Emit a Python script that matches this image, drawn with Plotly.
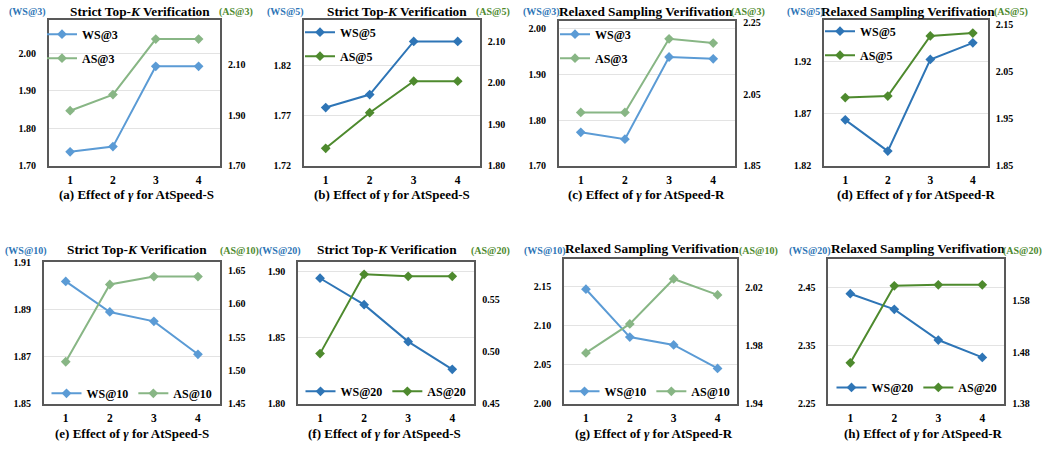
import plotly.graph_objects as go

W, H = 1044, 450
categories = [1, 2, 3, 4]

# --- data ---
ws3_s = [1.737, 1.751, 1.966, 1.966]
as3_s = [1.918, 1.982, 2.202, 2.202]
ws5_s = [1.778, 1.791, 1.844, 1.844]
as5_s = [1.842, 1.928, 2.004, 2.004]
ws3_r = [1.773, 1.758, 1.938, 1.934]
as3_r = [1.999, 1.999, 2.205, 2.193]
ws5_r = [1.864, 1.834, 1.922, 1.938]
as5_r = [1.995, 1.998, 2.126, 2.132]
ws10_s = [1.902, 1.889, 1.885, 1.871]
as10_s = [1.513, 1.629, 1.641, 1.641]
ws20_s = [1.895, 1.875, 1.847, 1.826]
as20_s = [0.498, 0.574, 0.572, 0.572]
ws10_r = [2.146, 2.085, 2.075, 2.045]
as10_r = [1.975, 1.995, 2.026, 2.015]
ws20_r = [2.440, 2.413, 2.360, 2.330]
as20_r = [1.459, 1.608, 1.610, 1.610]

ws_names = ["WS@3", "WS@5", "WS@3", "WS@5", "WS@10", "WS@20", "WS@10", "WS@20"]
as_names = ["AS@3", "AS@5", "AS@3", "AS@5", "AS@10", "AS@20", "AS@10", "AS@20"]
ws_data = [ws3_s, ws5_s, ws3_r, ws5_r, ws10_s, ws20_s, ws10_r, ws20_r]
as_data = [as3_s, as5_s, as3_r, as5_r, as10_s, as20_s, as10_r, as20_r]

left_ticks = [
    [1.70, 1.80, 1.90, 2.00], [1.72, 1.77, 1.82], [1.70, 1.80, 1.90, 2.00], [1.82, 1.87, 1.92],
    [1.85, 1.87, 1.89, 1.91], [1.80, 1.85, 1.90], [2.00, 2.05, 2.10, 2.15], [2.25, 2.35, 2.45],
]
right_ticks = [
    [1.70, 1.90, 2.10], [1.80, 1.90, 2.00, 2.10], [1.85, 2.05, 2.25], [1.85, 1.95, 2.05, 2.15],
    [1.45, 1.50, 1.55, 1.60, 1.65], [0.45, 0.50, 0.55], [1.94, 1.98, 2.02], [1.38, 1.48, 1.58],
]
left_ranges = [[1.70, 2.09], [1.72, 1.8655], [1.70, 2.0177], [1.82, 1.960],
               [1.85, 1.9103], [1.80, 1.9074], [2.00, 2.185], [2.25, 2.5006]]
right_ranges = [[1.70, 2.278], [1.80, 2.152], [1.85, 2.256], [1.85, 2.160],
                [1.45, 1.663], [0.45, 0.5859], [1.94, 2.040], [1.38, 1.6606]]
x_ranges = [[0.5, 4.5], [0.5, 4.5], [0.5, 4.5], [0.5, 4.35],
            [0.5, 4.5], [0.5, 4.5], [0.5, 4.45], [0.5, 4.5]]

titles = ["Strict Top-<i>K</i> Verification", "Strict Top-<i>K</i> Verification",
          "Relaxed Sampling Verifivation", "Relaxed Sampling Verifivation",
          "Strict Top-<i>K</i> Verification", "Strict Top-<i>K</i> Verification",
          "Relaxed Sampling Verifivation", "Relaxed Sampling Verifivation"]
subtitles = ["(a) Effect of <i>γ</i> for AtSpeed-S", "(b) Effect of <i>γ</i> for AtSpeed-S",
             "(c) Effect of <i>γ</i> for AtSpeed-R", "(d) Effect of <i>γ</i> for AtSpeed-R",
             "(e) Effect of <i>γ</i> for AtSpeed-S", "(f) Effect of <i>γ</i> for AtSpeed-S",
             "(g) Effect of <i>γ</i> for AtSpeed-R", "(h) Effect of <i>γ</i> for AtSpeed-R"]

# --- layout geometry (pixels) ---
boxes = [(48.7, 220, 15.3, 164.7), (303.7, 479.7, 15.3, 164.7), (558.7, 735.3, 16, 164.7),
         (824, 987.7, 15.3, 164.7), (43.7, 220, 263.3, 408.7), (298, 474.3, 263.3, 408.7),
         (564, 737.3, 260, 408.7), (828.3, 1004.3, 260, 408.7)]
title_pos = [(140, 7), (397, 7), (646, 7), (908, 7), (137, 251), (387, 251), (652, 250), (918, 250)]
sub_pos = [(136, 194), (392, 194), (646, 194), (916, 194), (132, 439), (384, 439), (654, 439), (923, 439)]
wsl_pos = [(27, 7), (285, 7), (541, 7), (805, 7), (26, 252), (280, 252), (545, 252), (810, 252)]
asl_pos = [(236, 7), (493, 7), (748, 7), (1011, 7), (239, 252), (490, 252), (758, 252), (1022, 252)]
leg_pos = [(42, 15), (300, 13), (555, 15), (820, 12), (132, 398), (386, 396), (650, 396), (917, 392)]

light_blue, light_green = "#5B9BD5", "#88B685"
dark_blue, dark_green = "#2E75B6", "#4E8A2E"
ws_colors = [light_blue, dark_blue, light_blue, dark_blue, light_blue, dark_blue, light_blue, dark_blue]
as_colors = [light_green, dark_green, light_green, dark_green, light_green, dark_green, light_green, dark_green]

FONT = "Liberation Serif"

def px(x):
    return x / W

def py(y):
    return 1 - y / H

fig = go.Figure()
layout = dict(width=W, height=H, margin=dict(l=0, r=0, t=0, b=0),
              plot_bgcolor="white", paper_bgcolor="white", showlegend=True,
              font=dict(family=FONT, size=11, color="black"))
annotations = []

for i in range(8):
    xn = i + 1
    yl = 2 * i + 1
    yr = 2 * i + 2
    xref = "x" if xn == 1 else f"x{xn}"
    ylref = "y" if yl == 1 else f"y{yl}"
    yrref = f"y{yr}"
    legname = "legend" if i == 0 else f"legend{i + 1}"
    fig.add_trace(go.Scatter(x=categories, y=ws_data[i], name=ws_names[i], mode="lines+markers",
                             line=dict(color=ws_colors[i], width=2),
                             marker=dict(symbol="diamond", size=7.5, color=ws_colors[i]),
                             xaxis=xref, yaxis=ylref, legend=legname, legendgroup=f"ws{i}"))
    fig.add_trace(go.Scatter(x=categories, y=as_data[i], name=as_names[i], mode="lines+markers",
                             line=dict(color=as_colors[i], width=2),
                             marker=dict(symbol="diamond", size=7.5, color=as_colors[i]),
                             xaxis=xref, yaxis=yrref, legend=legname, legendgroup=f"as{i}"))
    x0, x1, y0, y1 = boxes[i]
    xkey = "xaxis" if xn == 1 else f"xaxis{xn}"
    ylkey = "yaxis" if yl == 1 else f"yaxis{yl}"
    yrkey = f"yaxis{yr}"
    layout[xkey] = dict(domain=[px(x0), px(x1)], anchor=ylref, range=x_ranges[i],
                        tickvals=categories, showgrid=False, zeroline=False,
                        showline=True, mirror=True, linecolor="#595959", linewidth=1.5,
                        ticks="", ticklabelstandoff=3,
                        tickfont=dict(family=FONT, size=11.5, weight="bold"))
    layout[ylkey] = dict(domain=[py(y1), py(y0)], anchor=xref, range=left_ranges[i],
                         tickvals=left_ticks[i], tickformat=".2f", showgrid=True,
                         gridcolor="#E3E3E3", gridwidth=1, zeroline=False,
                         showline=True, mirror=True, linecolor="#595959", linewidth=1.5,
                         ticks="", ticklabelstandoff=9,
                         tickfont=dict(family=FONT, size=10, weight="bold"))
    layout[yrkey] = dict(domain=[py(y1), py(y0)], anchor=xref, overlaying=ylref, side="right",
                         range=right_ranges[i], tickvals=right_ticks[i], tickformat=".2f",
                         showgrid=False, zeroline=False, showline=False,
                         ticks="", ticklabelstandoff=7,
                         tickfont=dict(family=FONT, size=10, weight="bold"))
    lx, ly = leg_pos[i]
    if i < 4:
        layout[legname] = dict(x=px(lx), y=py(ly), xanchor="left", yanchor="top",
                               orientation="v", bgcolor="rgba(0,0,0,0)", itemwidth=30,
                               tracegroupgap=5,
                               font=dict(family=FONT, size=12, weight="bold", color="black"))
    else:
        layout[legname] = dict(x=px(lx), y=py(ly), xanchor="center", yanchor="middle",
                               orientation="h", bgcolor="rgba(0,0,0,0)", itemwidth=30,
                               font=dict(family=FONT, size=12, weight="bold", color="black"))
    tx, ty = title_pos[i]
    annotations.append(dict(text=titles[i], x=px(tx), y=py(ty), xref="paper", yref="paper",
                            showarrow=False, xanchor="center", yanchor="middle",
                            font=dict(family=FONT, size=13.3, weight="bold", color="black")))
    sx, sy = sub_pos[i]
    annotations.append(dict(text=subtitles[i], x=px(sx), y=py(sy), xref="paper", yref="paper",
                            showarrow=False, xanchor="center", yanchor="middle",
                            font=dict(family=FONT, size=13, weight="bold", color="black")))
    wx, wy = wsl_pos[i]
    annotations.append(dict(text="(" + ws_names[i] + ")", x=px(wx), y=py(wy), xref="paper",
                            yref="paper", showarrow=False, xanchor="center", yanchor="middle",
                            font=dict(family=FONT, size=10, weight="bold", color=dark_blue)))
    ax, ay = asl_pos[i]
    annotations.append(dict(text="(" + as_names[i] + ")", x=px(ax), y=py(ay), xref="paper",
                            yref="paper", showarrow=False, xanchor="center", yanchor="middle",
                            font=dict(family=FONT, size=10, weight="bold", color=dark_green)))

layout["annotations"] = annotations
fig.update_layout(**layout)
fig.write_html("out.html", config={"displayModeBar": False},
               post_script="document.body.style.margin='0';document.body.style.overflow='hidden';")
